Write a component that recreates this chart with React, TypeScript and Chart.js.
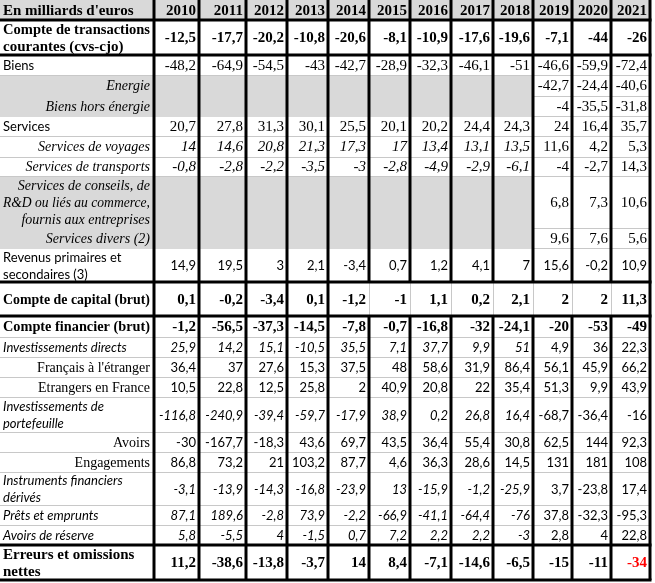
import React, { useEffect, useRef } from 'react';
import { Chart, registerables } from 'chart.js';

Chart.register(...registerables);

// ---------- DATA ----------
const headerLabel = "En milliards d'euros";
const years = ['2010', '2011', '2012', '2013', '2014', '2015', '2016', '2017', '2018', '2019', '2020', '2021'];

const rowLabels = [
  'Compte de transactions\ncourantes (cvs-cjo)',
  'Biens',
  'Energie',
  'Biens hors énergie',
  'Services',
  'Services de voyages',
  'Services de transports',
  'Services de conseils, de\nR&D ou liés au commerce,\nfournis aux entreprises',
  'Services divers (2)',
  'Revenus primaires et\nsecondaires (3)',
  'Compte de capital (brut)',
  'Compte financier (brut)',
  'Investissements directs',
  "Français à l'étranger",
  'Etrangers en France',
  'Investissements de\nportefeuille',
  'Avoirs',
  'Engagements',
  'Instruments financiers\ndérivés',
  'Prêts et emprunts',
  'Avoirs de réserve',
  'Erreurs et omissions\nnettes',
];

const compteTransactions = [-12.5, -17.7, -20.2, -10.8, -20.6, -8.1, -10.9, -17.6, -19.6, -7.1, -44, -26];
const biens = [-48.2, -64.9, -54.5, -43, -42.7, -28.9, -32.3, -46.1, -51, -46.6, -59.9, -72.4];
const energie = [null, null, null, null, null, null, null, null, null, -42.7, -24.4, -40.6];
const biensHorsEnergie = [null, null, null, null, null, null, null, null, null, -4, -35.5, -31.8];
const services = [20.7, 27.8, 31.3, 30.1, 25.5, 20.1, 20.2, 24.4, 24.3, 24, 16.4, 35.7];
const servicesVoyages = [14, 14.6, 20.8, 21.3, 17.3, 17, 13.4, 13.1, 13.5, 11.6, 4.2, 5.3];
const servicesTransports = [-0.8, -2.8, -2.2, -3.5, -3, -2.8, -4.9, -2.9, -6.1, -4, -2.7, 14.3];
const servicesConseils = [null, null, null, null, null, null, null, null, null, 6.8, 7.3, 10.6];
const servicesDivers = [null, null, null, null, null, null, null, null, null, 9.6, 7.6, 5.6];
const revenus = [14.9, 19.5, 3, 2.1, -3.4, 0.7, 1.2, 4.1, 7, 15.6, -0.2, 10.9];
const compteCapital = [0.1, -0.2, -3.4, 0.1, -1.2, -1, 1.1, 0.2, 2.1, 2, 2, 11.3];
const compteFinancier = [-1.2, -56.5, -37.3, -14.5, -7.8, -0.7, -16.8, -32, -24.1, -20, -53, -49];
const investDirects = [25.9, 14.2, 15.1, -10.5, 35.5, 7.1, 37.7, 9.9, 51, 4.9, 36, 22.3];
const francaisEtranger = [36.4, 37, 27.6, 15.3, 37.5, 48, 58.6, 31.9, 86.4, 56.1, 45.9, 66.2];
const etrangersFrance = [10.5, 22.8, 12.5, 25.8, 2, 40.9, 20.8, 22, 35.4, 51.3, 9.9, 43.9];
const investPortefeuille = [-116.8, -240.9, -39.4, -59.7, -17.9, 38.9, 0.2, 26.8, 16.4, -68.7, -36.4, -16];
const avoirs = [-30, -167.7, -18.3, 43.6, 69.7, 43.5, 36.4, 55.4, 30.8, 62.5, 144, 92.3];
const engagements = [86.8, 73.2, 21, 103.2, 87.7, 4.6, 36.3, 28.6, 14.5, 131, 181, 108];
const instrumentsDerives = [-3.1, -13.9, -14.3, -16.8, -23.9, 13, -15.9, -1.2, -25.9, 3.7, -23.8, 17.4];
const pretsEmprunts = [87.1, 189.6, -2.8, 73.9, -2.2, -66.9, -41.1, -64.4, -76, 37.8, -32.3, -95.3];
const avoirsReserve = [5.8, -5.5, 4, -1.5, 0.7, 7.2, 2.2, 2.2, -3, 2.8, 4, 22.8];
const erreursOmissions = [11.2, -38.6, -13.8, -3.7, 14, 8.4, -7.1, -14.6, -6.5, -15, -11, -34];

const rowValues = [
  compteTransactions, biens, energie, biensHorsEnergie, services, servicesVoyages,
  servicesTransports, servicesConseils, servicesDivers, revenus, compteCapital,
  compteFinancier, investDirects, francaisEtranger, etrangersFrance, investPortefeuille,
  avoirs, engagements, instrumentsDerives, pretsEmprunts, avoirsReserve, erreursOmissions,
];

// ---------- LAYOUT / STYLE (table units) ----------
const SERIF = '"Liberation Serif", "Times New Roman", serif';
const SANS = 'Lato, "Open Sans", sans-serif';
const F = {
  bold: `bold 15px ${SERIF}`,
  serif: `15px ${SERIF}`,
  serifLabel: `14px ${SERIF}`,
  serifItalic: `italic 14px ${SERIF}`,
  serifItalicVal: `italic 15px ${SERIF}`,
  sans: `13px ${SANS}`,
  sansItalic: `italic 13px ${SANS}`,
};

const headerHeight = 20;
const colWidths = [154, 45, 47, 41, 41, 41, 41, 41, 42, 40, 39, 39, 39];
type Spec = { h: number; lf: string; la: 'left' | 'right'; vf: string; vi?: string; shade?: boolean; thick?: boolean; greyV?: boolean };
const rowSpecs: Spec[] = [
  { h: 35, lf: F.bold, la: 'left', vf: F.bold, thick: true },
  { h: 20, lf: F.sans, la: 'left', vf: F.serif },
  { h: 21, lf: F.serifItalic, la: 'right', vf: F.serif, shade: true },
  { h: 20, lf: F.serifItalic, la: 'right', vf: F.serif, shade: true },
  { h: 20, lf: F.sans, la: 'left', vf: F.serif },
  { h: 21, lf: F.serifItalic, la: 'right', vf: F.serif, vi: F.serifItalicVal },
  { h: 19, lf: F.serifItalic, la: 'right', vf: F.serif, vi: F.serifItalicVal },
  { h: 52, lf: F.serifItalic, la: 'right', vf: F.serif, shade: true },
  { h: 20, lf: F.serifItalic, la: 'right', vf: F.serif, shade: true },
  { h: 34, lf: F.sans, la: 'left', vf: F.sans, thick: true },
  { h: 34, lf: F.bold, la: 'left', vf: F.bold, thick: true, greyV: true },
  { h: 21, lf: F.bold, la: 'left', vf: F.bold },
  { h: 20, lf: F.sansItalic, la: 'left', vf: F.sans, vi: F.sansItalic },
  { h: 20, lf: F.serifLabel, la: 'right', vf: F.sans },
  { h: 20, lf: F.serifLabel, la: 'right', vf: F.sans },
  { h: 35, lf: F.sansItalic, la: 'left', vf: F.sans, vi: F.sansItalic },
  { h: 20, lf: F.serifLabel, la: 'right', vf: F.sans },
  { h: 20, lf: F.serifLabel, la: 'right', vf: F.sans },
  { h: 33, lf: F.sansItalic, la: 'left', vf: F.sans, vi: F.sansItalic },
  { h: 20, lf: F.sansItalic, la: 'left', vf: F.sans, vi: F.sansItalic },
  { h: 20, lf: F.sansItalic, la: 'left', vf: F.sans, vi: F.sansItalic, thick: true },
  { h: 35, lf: F.bold, la: 'left', vf: F.bold, thick: true },
];
const shadedCols = 9;
const italicCols = 9;
const lineGap = 17;

function fmt(v: number): string {
  return String(v).replace('.', ',');
}

const tablePlugin = {
  id: 'tablePlugin',
  afterDraw(chart: any) {
    const ctx: CanvasRenderingContext2D = chart.ctx;
    const xs = chart.scales.x;
    const ys = chart.scales.y;
    const X = (v: number) => xs.getPixelForValue(v);
    const Y = (v: number) => ys.getPixelForValue(v);

    const colEdges: number[] = [0];
    colWidths.forEach((w) => colEdges.push(colEdges[colEdges.length - 1] + w));
    const rowEdges: number[] = [0, headerHeight];
    rowSpecs.forEach((r) => rowEdges.push(rowEdges[rowEdges.length - 1] + r.h));
    const tableRight = colEdges[colEdges.length - 1];
    const tableBottom = rowEdges[rowEdges.length - 1];

    ctx.save();
    ctx.fillStyle = '#ffffff';
    ctx.fillRect(X(0), Y(0), X(tableRight + 2) - X(0), Y(tableBottom + 2) - Y(0));

    // thin horizontal grid lines
    ctx.strokeStyle = '#c8c8c8';
    ctx.lineWidth = 1;
    for (let i = 2; i < rowEdges.length - 1; i++) {
      const y = Math.round(Y(rowEdges[i])) + 0.5;
      ctx.beginPath();
      ctx.moveTo(X(0), y);
      ctx.lineTo(X(tableRight), y);
      ctx.stroke();
    }

    // header fill
    ctx.fillStyle = '#d9d9d9';
    ctx.fillRect(X(0), Y(0), X(tableRight) - X(0), Y(headerHeight) - Y(0));

    // shaded cells
    rowSpecs.forEach((r, i) => {
      if (!r.shade) return;
      const y0 = Y(rowEdges[i + 1]);
      const y1 = Y(rowEdges[i + 2]);
      ctx.fillStyle = '#d9d9d9';
      ctx.fillRect(X(0), y0 + 1, X(colEdges[shadedCols + 1]) - X(0), y1 - y0);
    });

    // vertical lines
    for (let c = 1; c < colEdges.length; c++) {
      const x = X(colEdges[c]);
      for (let i = 0; i < rowEdges.length - 1; i++) {
        const spec = i === 0 ? null : rowSpecs[i - 1];
        const grey = spec && spec.greyV && c >= 6 && c < colEdges.length - 1;
        ctx.strokeStyle = grey ? '#c8c8c8' : '#000000';
        ctx.lineWidth = grey ? 1 : 3;
        ctx.beginPath();
        const xx = grey ? Math.round(x) + 0.5 : x;
        ctx.moveTo(xx, Y(rowEdges[i]));
        ctx.lineTo(xx, Y(rowEdges[i + 1]));
        ctx.stroke();
      }
    }

    // thick horizontal lines
    ctx.strokeStyle = '#000000';
    ctx.lineWidth = 3;
    const thickYs = [headerHeight];
    rowSpecs.forEach((r, i) => { if (r.thick) thickYs.push(rowEdges[i + 2]); });
    thickYs.forEach((yv) => {
      const y = Y(yv);
      ctx.beginPath();
      ctx.moveTo(X(0), y);
      ctx.lineTo(X(tableRight) + 1.5, y);
      ctx.stroke();
    });

    const drawText = (text: string, font: string, align: 'left' | 'right', x0: number, x1: number, yc: number, color = '#000') => {
      const lines = text.split('\n');
      ctx.font = font;
      ctx.fillStyle = color;
      ctx.textAlign = align;
      ctx.textBaseline = 'middle';
      const start = yc - ((lines.length - 1) * lineGap) / 2;
      lines.forEach((ln, k) => {
        ctx.fillText(ln, align === 'left' ? x0 : x1, start + k * lineGap + 1, x1 - x0);
      });
    };

    const hy = (Y(0) + Y(headerHeight)) / 2;
    drawText(headerLabel, F.bold, 'left', X(0) + 3, X(colEdges[1]) - 4, hy);
    years.forEach((yr, j) => {
      drawText(yr, F.bold, 'right', X(colEdges[j + 1]) + 2, X(colEdges[j + 2]) - 3, hy);
    });

    rowSpecs.forEach((spec, i) => {
      const yc = (Y(rowEdges[i + 1]) + Y(rowEdges[i + 2])) / 2;
      drawText(rowLabels[i], spec.lf, spec.la, X(0) + 3, X(colEdges[1]) - 4, yc);
      const vals = rowValues[i];
      vals.forEach((v, j) => {
        if (v === null || v === undefined) return;
        const font = spec.vi && j < italicCols ? spec.vi : spec.vf;
        const isLast = i === rowSpecs.length - 1 && j === vals.length - 1;
        drawText(fmt(v as number), font, 'right', X(colEdges[j + 1]) + 2, X(colEdges[j + 2]) - 3, yc, isLast ? '#ff0000' : '#000');
      });
    });
    ctx.restore();
  },
};

export default function App() {
  const ref = useRef<HTMLCanvasElement>(null);
  useEffect(() => {
    if (!ref.current) return;
    const chart = new Chart(ref.current, {
      type: 'scatter',
      data: { datasets: [] },
      options: {
        animation: false,
        responsive: false,
        devicePixelRatio: 1,
        events: [],
        layout: { padding: 0 },
        plugins: { legend: { display: false }, tooltip: { enabled: false }, title: { display: false } },
        scales: {
          x: { type: 'linear', min: 0, max: 655, display: false },
          y: { type: 'linear', min: 0, max: 583, reverse: true, display: false },
        },
      },
      plugins: [tablePlugin],
    } as any);
    return () => chart.destroy();
  }, []);
  return (
    <div style={{ position: 'fixed', left: 0, top: 0, width: 655, height: 583, background: '#fff' }}>
      <canvas ref={ref} width={655} height={583} style={{ display: 'block' }} />
    </div>
  );
}
